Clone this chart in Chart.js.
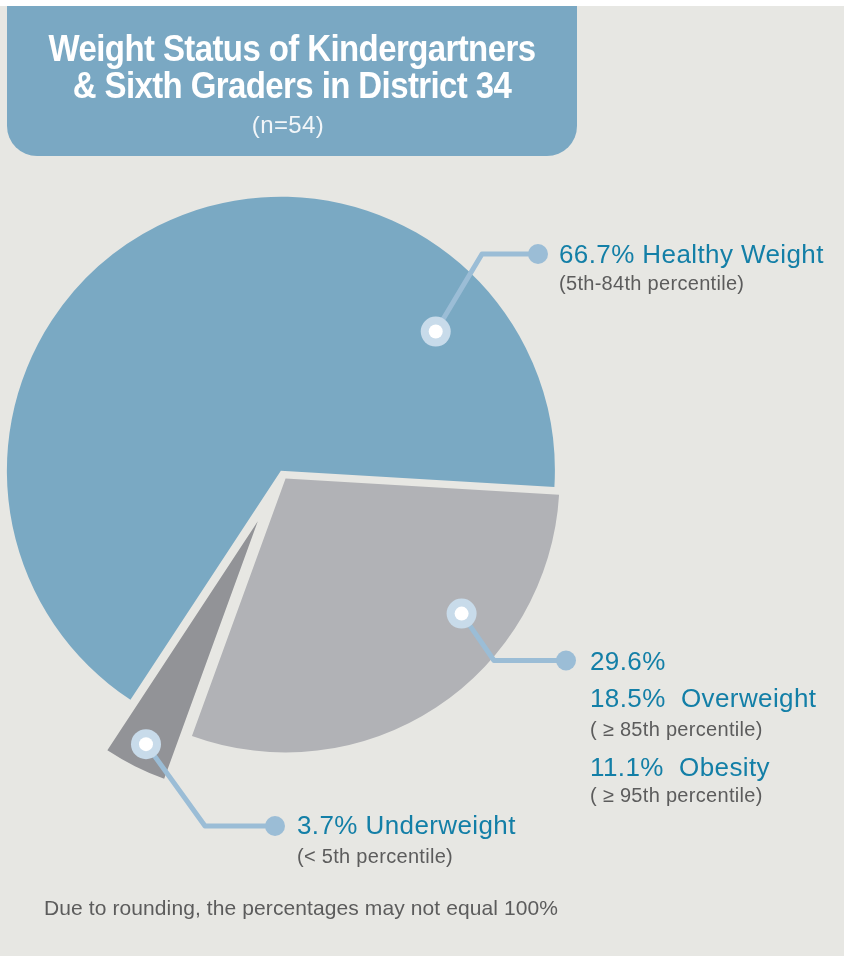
<!DOCTYPE html>
<html>
<head>
<meta charset="utf-8">
<script src="https://cdn.jsdelivr.net/npm/chart.js@4.4.1/dist/chart.umd.min.js"></script>
<style>
  html, body { margin: 0; padding: 0; background: #e7e7e3; }
  body {
    width: 844px; height: 956px; overflow: hidden; position: relative;
    font-family: 'Liberation Sans', Arial, Helvetica, sans-serif;
  }
  #topStrip { position: absolute; left: 0; top: 0; width: 844px; height: 6px; background: #fff; }
  #titleBox {
    position: absolute; left: 7px; top: 6px; width: 570px; height: 150px;
    background: #7aa8c3; border-radius: 0 0 30px 30px;
  }
  .t { position: absolute; white-space: pre; line-height: 1; }
  .title { color: #fff; font-weight: bold; font-size: 33px; letter-spacing: -0.6px;
           width: 570px; left: 7px; text-align: center; transform: scaleY(1.12); }
  .n { color: #f2f6f9; font-size: 24px; letter-spacing: 0.4px; width: 570px; left: 3px; text-align: center; }
  .main { color: #137fa7; font-size: 26px; letter-spacing: 0.4px; }
  .sub { color: #5c5c5c; font-size: 20px; letter-spacing: 0.3px; }
  .foot { color: #5c5c5c; font-size: 21px; letter-spacing: 0.1px; }
  canvas { position: absolute; left: 0; top: 0; }
</style>
</head>
<body>
<div id="topStrip"></div>
<div id="titleBox"></div>
<canvas id="pie" width="844" height="956"></canvas>

<div class="t title" style="top:32px">Weight Status of Kindergartners</div>
<div class="t title" style="top:69px">&amp; Sixth Graders in District 34</div>
<div class="t n" style="top:113px">(n=54)</div>

<div class="t main" style="left:559px; top:241px">66.7% Healthy Weight</div>
<div class="t sub" style="left:559px; top:273px">(5th-84th percentile)</div>

<div class="t main" style="left:590px; top:648px">29.6%</div>
<div class="t main" style="left:590px; top:685px">18.5%  Overweight</div>
<div class="t sub" style="left:590px; top:719px">( ≥ 85th percentile)</div>
<div class="t main" style="left:590px; top:754px">11.1%  Obesity</div>
<div class="t sub" style="left:590px; top:785px">( ≥ 95th percentile)</div>

<div class="t main" style="left:297px; top:812px">3.7% Underweight</div>
<div class="t sub" style="left:297px; top:846px">(&lt; 5th percentile)</div>

<div class="t foot" style="left:44px; top:897px">Due to rounding, the percentages may not equal 100%</div>

<script>
// slices, clockwise from the lower-left edge of the healthy slice
const SLICE_LABELS = ['Healthy Weight', 'Overweight + Obesity', 'Underweight'];
const SLICE_VALUES = [66.7, 29.6, 3.7];
const SLICE_COLORS = ['#7aa9c3', '#b1b2b6', '#929397'];

// how far each slice is pulled out along its bisector (px)
const EXPLODE = [2.5, 6.5, 54];

// callouts: anchor given as fraction along the arc + fraction of radius, then elbow/end in page px
const CALLOUTS = [
  { along: 0.811, depth: 0.76, elbow: [482, 254], end: [538, 254] },
  { along: 0.32,  depth: 0.81, elbow: [494, 660.5], end: [566, 660.5] },
  { along: 0.5,   depth: 0.91, elbow: [205, 826], end: [275, 826] },
];
const LINE_COLOR = '#9bbdd6';
const RING_COLOR = '#c8dbea';

const explodePlugin = {
  id: 'explode',
  beforeDatasetDraw(chart, args) {
    const ctx = chart.ctx;
    args.meta.data.forEach((arc, i) => {
      const mid = (arc.startAngle + arc.endAngle) / 2;
      ctx.save();
      ctx.translate(Math.cos(mid) * EXPLODE[i], Math.sin(mid) * EXPLODE[i]);
      arc.draw(ctx);
      ctx.restore();
    });
    return false;
  },
  afterDatasetsDraw(chart) {
    const ctx = chart.ctx;
    const arcs = chart.getDatasetMeta(0).data;
    CALLOUTS.forEach((c, i) => {
      const arc = arcs[i];
      const mid = (arc.startAngle + arc.endAngle) / 2;
      const cx = arc.x + Math.cos(mid) * EXPLODE[i];
      const cy = arc.y + Math.sin(mid) * EXPLODE[i];
      const a = arc.startAngle + c.along * (arc.endAngle - arc.startAngle);
      const r = arc.outerRadius * c.depth;
      const ax = cx + Math.cos(a) * r;
      const ay = cy + Math.sin(a) * r;

      ctx.save();
      ctx.strokeStyle = LINE_COLOR;
      ctx.lineWidth = 5;
      ctx.lineJoin = 'round';
      ctx.beginPath();
      ctx.moveTo(ax, ay);
      ctx.lineTo(c.elbow[0], c.elbow[1]);
      ctx.lineTo(c.end[0], c.end[1]);
      ctx.stroke();

      ctx.fillStyle = LINE_COLOR;
      ctx.beginPath();
      ctx.arc(c.end[0], c.end[1], 10, 0, Math.PI * 2);
      ctx.fill();

      ctx.fillStyle = RING_COLOR;
      ctx.beginPath();
      ctx.arc(ax, ay, 15, 0, Math.PI * 2);
      ctx.fill();
      ctx.fillStyle = '#fff';
      ctx.beginPath();
      ctx.arc(ax, ay, 7, 0, Math.PI * 2);
      ctx.fill();
      ctx.restore();
    });
  }
};

new Chart(document.getElementById('pie').getContext('2d'), {
  type: 'pie',
  data: {
    labels: SLICE_LABELS,
    datasets: [{
      data: SLICE_VALUES,
      backgroundColor: SLICE_COLORS,
      borderWidth: 0,
      hoverOffset: 0,
    }],
  },
  options: {
    responsive: false,
    animation: false,
    events: [],
    rotation: 213.3,
    radius: 274,
    layout: { padding: { left: 0, right: 280, top: 190, bottom: 200 } },
    plugins: {
      legend: { display: false },
      tooltip: { enabled: false },
      title: { display: false },
    },
  },
  plugins: [explodePlugin],
});
</script>
</body>
</html>
